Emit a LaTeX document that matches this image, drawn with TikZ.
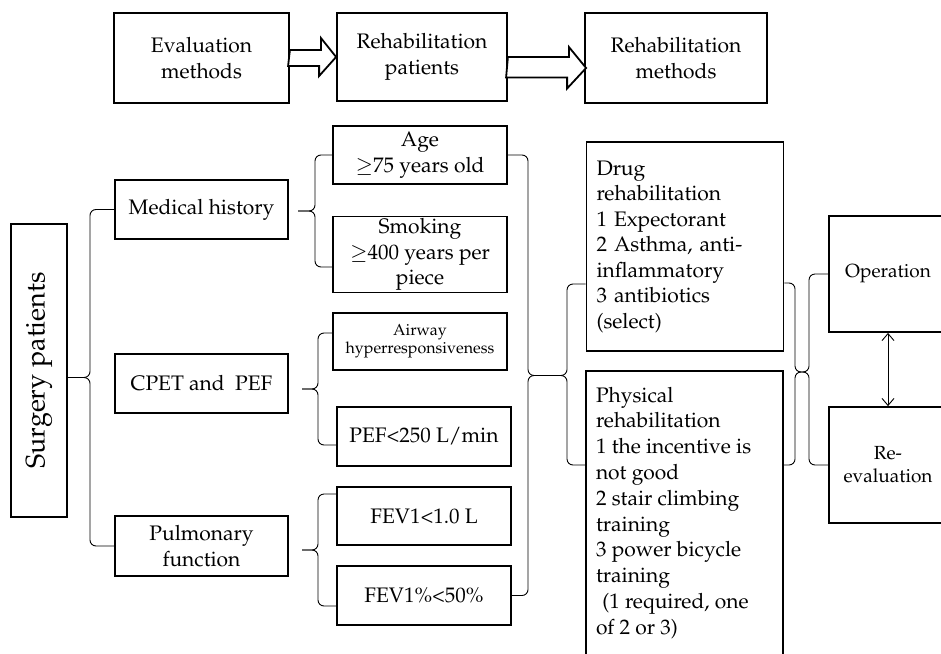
\documentclass[tikz,border=0pt]{standalone}
\usepackage[T1]{fontenc}
\usepackage{mathpazo}
\usetikzlibrary{arrows.meta, calc}

\begin{document}
\begin{tikzpicture}[x=1pt, y=-1pt,
  cell/.style={draw, line width=1.8pt, align=center, inner sep=2pt,
               font=\fontsize{21}{25.5}\selectfont},
  small/.style={cell, font=\fontsize{16}{18}\selectfont},
  side/.style={cell, font=\fontsize{19}{23}\selectfont},
  listbox/.style={cell, align=left, inner xsep=10pt, text width=177pt},
  brace/.style={line width=0.9pt, rounded corners=6pt},
  hollow/.style={draw, fill=white, line width=1.8pt, line join=miter},
  dbl/.style={{Straight Barb[length=7pt,width=12pt]}-{Straight Barb[length=7pt,width=12pt]}, line width=0.9pt}]

\useasboundingbox (0,0) rectangle (941,653);

% ---------- top row ----------
\node[cell, minimum width=175, minimum height=90] (eval)  at (201.5,58) {Evaluation\\methods};
\node[cell, minimum width=170, minimum height=88] (rpat)  at (422,57)   {Rehabilitation\\patients};
\node[cell, minimum width=182, minimum height=90] (rmeth) at (676,58)   {Rehabilitation\\methods};

\draw[hollow] (eval.east) ++(0,-8) -- ++(31,0) -- ++(0,-12) -- (rpat.west)
  -- ++(-17,19) -- ++(0,-10) -- ++(-31,0) -- cycle;
\draw[hollow] (rpat.east) -- ++(61,0) -- ++(0,-10) -- ($(rmeth.west)+(2,10)$)
  -- ++(-19,20.5) -- ++(0,-11) -- ++(-61,0) -- cycle;

% ---------- patients ----------
\node[cell, minimum width=56, minimum height=293, font=\fontsize{27}{32}\selectfont]
                                                  (surg) at (39,370.5) {\rotatebox{90}{Surgery patients}};
\node[cell, minimum width=173, minimum height=59] (medh) at (201.5,209.5) {Medical history};
\node[cell, minimum width=173, minimum height=59] (cpet) at (201.5,383.5) {CPET and\ \ PEF};
\node[cell, minimum width=173, minimum height=60] (pulm) at (201.5,546)   {Pulmonary\\function};

% ---------- criteria ----------
\node[cell,  minimum width=174, minimum height=58] (age)  at (420,155)   {Age\\$\geq$75 years old};
\node[cell,  minimum width=174, minimum height=75] (smok) at (420,254.5) {Smoking\\$\geq$400 years per\\piece};
\node[small, minimum width=174, minimum height=57] (airw) at (420,341.5) {Airway\\hyperresponsiveness};
\node[cell,  minimum width=174, minimum height=59] (pef)  at (424,436.5) {PEF\textless250 L/min};
\node[cell,  minimum width=174, minimum height=58] (fev1) at (424,516)   {FEV1\textless1.0 L};
\node[cell,  minimum width=174, minimum height=59] (fevp) at (424,595.5) {FEV1\%\textless50\%};

% ---------- methods ----------
\node[listbox, minimum height=209] (drug) at (685,246.5)
  {Drug\\rehabilitation\\1 Expectorant\\2 Asthma, anti-\\inflammatory\\3 antibiotics\\(select)};
\node[cell, anchor=north, inner xsep=10pt, inner ysep=16pt] (phys) at (684.5,370)
  {\parbox[t][270pt][t]{177pt}{\fontsize{21}{25.8}\selectfont\raggedright
   Physical\\rehabilitation\\1 the incentive is\\not good\\2 stair climbing\\training\\3 power bicycle\\training\\
   \hspace*{0.3em}(1 required, one\\of 2 or 3)}};

\node[side, minimum width=118, minimum height=116] (oper) at (888,274) {Operation};
\node[side, minimum width=118, minimum height=116] (reev) at (888,465) {Re-\\evaluation};
\draw[dbl] (oper) -- (reev);

% ---------- braces ----------
\coordinate (smok-a) at ($(smok.west)+(0,12.5)$);
\coordinate (airw-a) at ($(airw.west)+(0,-8.5)$);
\coordinate (pef-a)  at ($(pef.west)+(0,8.5)$);
\coordinate (fev1-a) at ($(fev1.west)+(0,-22)$);
\coordinate (fevp-a) at ($(fevp.west)+(0,10.5)$);
\coordinate (drug-a) at ($(drug.west)+(0,37.5)$);
\coordinate (phys-a) at ($(phys.north west)+(0,95)$);
\coordinate (drug-b) at ($(drug.east)+(0,36.5)$);
\coordinate (phys-b) at ($(phys.north east)+(0,95)$);

\coordinate (sp-t) at (67,377.5);  \coordinate (sp-v) at (90,377.5);
\coordinate (mh-t) at (298,211);   \coordinate (mh-v) at (315,211);
\coordinate (cp-t) at (302,389);   \coordinate (cp-v) at (318,389);
\coordinate (pf-t) at (302,550);   \coordinate (pf-v) at (318,550);
\coordinate (cm-t) at (547,375.5); \coordinate (cm-v) at (528,375.5);
\coordinate (rm-t) at (547,375.5); \coordinate (rm-v) at (567,375.5);
\coordinate (rr-t) at (802,372);   \coordinate (rr-v) at (795,372);
\coordinate (or-t) at (802,372);   \coordinate (or-v) at (809,372);

\foreach \b/\a in {sp/medh.west, sp/pulm.west, mh/age.west, mh/smok-a,
                   cp/airw-a, cp/pef-a, pf/fev1-a, pf/fevp-a,
                   cm/age.east, cm/fevp.east, rm/drug-a, rm/phys-a,
                   rr/drug-b, rr/phys-b, or/oper.west, or/reev.west} {
  \draw[brace] (\a) -| (\b-v) -- (\b-t);
}
\end{tikzpicture}
\end{document}
